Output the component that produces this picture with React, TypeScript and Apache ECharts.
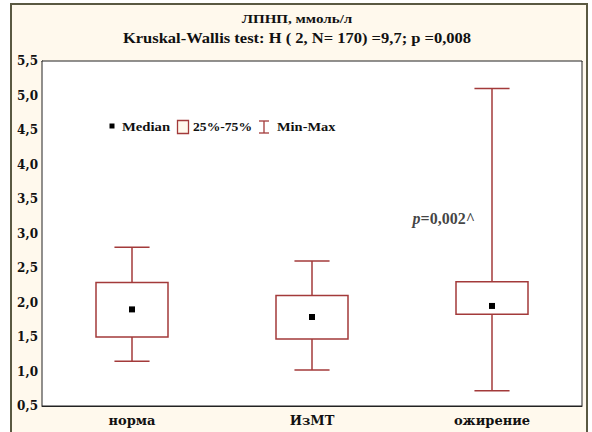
import React, { useEffect, useRef } from "react";
import * as echarts from "echarts";

const categories = ["норма", "ИзМТ", "ожирение"];
const minValues = [1.15, 1.02, 0.72];
const q1Values = [1.5, 1.47, 1.83];
const medianValues = [1.9, 1.79, 1.95];
const q3Values = [2.29, 2.1, 2.3];
const maxValues = [2.8, 2.6, 5.1];
const yTicks = { min: 0.5, max: 5.5, interval: 0.5 };
const titleLines = ["ЛПНП, ммоль/л", "Kruskal-Wallis test: H ( 2, N= 170) =9,7; p =0,008"];
const legendLabels = ["Median", "25%-75%", "Min-Max"];
const annotation = { italic: "p", rest: "=0,002^", category: 2, value: 3.22 };

const FONT = "'Liberation Serif', 'Times New Roman', serif";
const AXIS_FONT = "'DejaVu Serif', serif";
const RED = "#a33a3a";

export default function App() {
  const ref = useRef<HTMLDivElement>(null);
  useEffect(() => {
    if (!ref.current) return;
    const chart = echarts.init(ref.current, undefined, { renderer: "svg" });
    const data = categories.map((_, i) => [
      i,
      minValues[i],
      q1Values[i],
      medianValues[i],
      q3Values[i],
      maxValues[i],
    ]);
    const txt = (text: string, x: number, y: number, size: number, sx: number, align = "left") => ({
      type: "text",
      z: 10,
      x,
      y,
      scaleX: sx,
      style: {
        text,
        font: `bold ${size}px ${FONT}`,
        fill: "#111",
        align,
        verticalAlign: "middle",
      },
    });
    const option: any = {
      animation: false,
      backgroundColor: "#ffffff",
      textStyle: { fontFamily: FONT },
      grid: {
        left: 42,
        top: 61,
        width: 540,
        height: 345,
        show: true,
        backgroundColor: "#ffffff",
        borderColor: "#222",
        borderWidth: 1,
        z: 1,
      },
      graphic: [
        {
          type: "rect",
          z: -10,
          silent: true,
          shape: { x: 11, y: 4, width: 576, height: 460 },
          style: { fill: "#fff9ed", stroke: "#5a5942", lineWidth: 2 },
        },
        txt(titleLines[0], 297, 18, 13, 1.16, "center"),
        txt(titleLines[1], 297, 38, 14, 1.18, "center"),
        // legend
        {
          type: "rect",
          z: 10,
          shape: { x: 109.5, y: 123.5, width: 5, height: 5 },
          style: { fill: "#000" },
        },
        txt(legendLabels[0], 122, 127, 13, 1.13),
        {
          type: "rect",
          z: 10,
          shape: { x: 177.5, y: 120.5, width: 11, height: 13 },
          style: { fill: "#fff9ed", stroke: RED, lineWidth: 1.3 },
        },
        txt(legendLabels[1], 193, 127, 13, 1.05),
        {
          type: "line",
          z: 10,
          shape: { x1: 259, y1: 121, x2: 269, y2: 121 },
          style: { stroke: RED, lineWidth: 1.3 },
        },
        {
          type: "line",
          z: 10,
          shape: { x1: 264, y1: 121, x2: 264, y2: 133 },
          style: { stroke: RED, lineWidth: 1.3 },
        },
        {
          type: "line",
          z: 10,
          shape: { x1: 259, y1: 133, x2: 269, y2: 133 },
          style: { stroke: RED, lineWidth: 1.3 },
        },
        txt(legendLabels[2], 277, 127, 13, 1.11),
      ],
      xAxis: [
        {
          type: "category",
          data: categories,
          position: "bottom",
          boundaryGap: true,
          axisLine: { show: true, lineStyle: { color: "#222", width: 1 } },
          axisTick: { show: true, inside: true, alignWithLabel: true, length: 3, lineStyle: { color: "#222" } },
          axisLabel: { color: "#111", fontWeight: "bold", fontSize: 13, fontFamily: AXIS_FONT, margin: 8 },
          splitLine: { show: false },
        },
        {
          type: "category",
          data: categories,
          position: "top",
          boundaryGap: true,
          axisLine: { show: true, lineStyle: { color: "#222", width: 1 } },
          axisTick: { show: true, inside: true, alignWithLabel: true, length: 3, lineStyle: { color: "#222" } },
          axisLabel: { show: false },
          splitLine: { show: false },
        },
      ],
      yAxis: {
        type: "value",
        min: yTicks.min,
        max: yTicks.max,
        interval: yTicks.interval,
        axisLine: { show: true, lineStyle: { color: "#222" } },
        axisTick: { show: false },
        axisLabel: {
          color: "#111",
          fontWeight: "bold",
          fontSize: 12,
          fontFamily: AXIS_FONT,
          margin: 4,
          formatter: (v: number) => v.toFixed(1).replace(".", ","),
        },
        splitLine: { show: true, lineStyle: { color: "#d0d0d0", type: [2, 2], width: 1 } },
      },
      series: [
        {
          type: "custom",
          xAxisIndex: 0,
          data,
          z: 5,
          renderItem: (params: any, api: any) => {
            const idx = api.value(0);
            const pMin = api.coord([idx, api.value(1)]);
            const pQ1 = api.coord([idx, api.value(2)]);
            const pMed = api.coord([idx, api.value(3)]);
            const pQ3 = api.coord([idx, api.value(4)]);
            const pMax = api.coord([idx, api.value(5)]);
            const bandW = api.size([1, 0])[0];
            const boxW = bandW * 0.4;
            const capW = bandW * 0.195;
            const cx = pMin[0];
            const ls = { stroke: RED, lineWidth: 1.5, fill: "none" };
            return {
              type: "group",
              children: [
                { type: "line", shape: { x1: cx, y1: pMax[1], x2: cx, y2: pQ3[1] }, style: ls },
                { type: "line", shape: { x1: cx, y1: pQ1[1], x2: cx, y2: pMin[1] }, style: ls },
                { type: "line", shape: { x1: cx - capW / 2, y1: pMax[1], x2: cx + capW / 2, y2: pMax[1] }, style: ls },
                { type: "line", shape: { x1: cx - capW / 2, y1: pMin[1], x2: cx + capW / 2, y2: pMin[1] }, style: ls },
                {
                  type: "rect",
                  shape: { x: cx - boxW / 2, y: pQ3[1], width: boxW, height: pQ1[1] - pQ3[1] },
                  style: { stroke: RED, lineWidth: 1.5, fill: "#ffffff" },
                },
                {
                  type: "rect",
                  shape: { x: cx - 3, y: pMed[1] - 3, width: 6, height: 6 },
                  style: { fill: "#000" },
                },
              ],
            };
          },
        },
        {
          type: "scatter",
          xAxisIndex: 0,
          data: [[annotation.category, annotation.value]],
          symbolSize: 0,
          silent: true,
          z: 6,
          label: {
            show: true,
            position: "left",
            offset: [-12, 0],
            formatter: `{i|${annotation.italic}}{b|${annotation.rest}}`,
            rich: {
              i: { fontStyle: "italic", fontWeight: "bold", fontSize: 16, fontFamily: FONT, color: "#111" },
              b: { fontWeight: "bold", fontSize: 16, fontFamily: FONT, color: "#111" },
            },
          },
        },
      ],
    };
    chart.setOption(option);
    return () => chart.dispose();
  }, []);
  return (
    <div
      ref={ref}
      style={{ position: "fixed", left: 0, top: 0, width: 592, height: 432 }}
    />
  );
}
